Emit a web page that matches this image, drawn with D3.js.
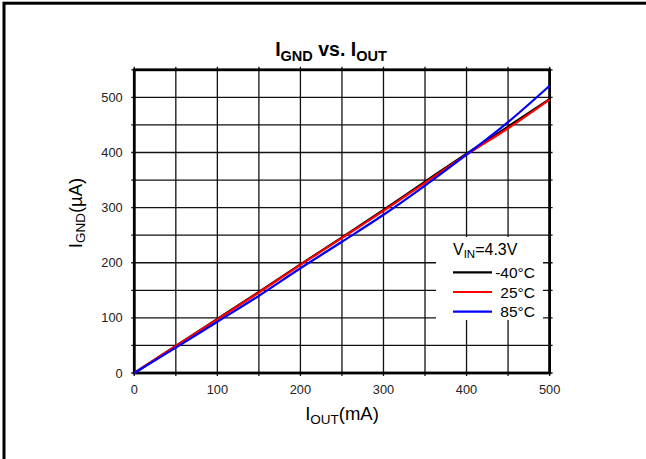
<!DOCTYPE html>
<html>
<head>
<meta charset="utf-8">
<script src="https://cdn.jsdelivr.net/npm/d3@7"></script>
<style>
  html, body { margin: 0; padding: 0; background: #fff; }
  svg { display: block; font-family: "Liberation Sans", Arial, sans-serif; }
</style>
</head>
<body>
<svg id="chart" width="646" height="459"></svg>
<script>
// Output current (mA) sample points
const iout = [0, 50, 100, 150, 200, 250, 300, 350, 400, 450, 500];
// Ground current (µA) per temperature
const ignd_m40 = [0, 49, 98, 147, 197, 246, 296, 347, 398, 447, 497];
const ignd_25  = [0, 49, 97, 146, 196, 245, 294, 345, 396, 444, 496];
const ignd_85  = [0, 46, 93, 140, 190, 238, 287, 340, 396, 455, 521];

const seriesNames  = ["-40°C", "25°C", "85°C"];
const seriesColors = ["#000000", "#ff0000", "#0000ff"];
const seriesValues = [ignd_m40, ignd_25, ignd_85];

const xTicks = [0, 100, 200, 300, 400, 500];
const yTicks = [0, 100, 200, 300, 400, 500];
const gridStep = 50;

const svg = d3.select("#chart");

// Outer frame (runs past the right and bottom edges of the view)
svg.append("rect")
  .attr("x", 4).attr("y", 3.2)
  .attr("width", 700).attr("height", 700)
  .attr("fill", "none").attr("stroke", "#000").attr("stroke-width", 3);

const x = d3.scaleLinear().domain([0, 500]).range([134.3, 549.6]);
const y = d3.scaleLinear().domain([0, 550]).range([373, 69.8]);

const plot = svg.append("g");

// Grid lines every 50 units, with short stubs past the frame
const gx = d3.range(0, 500 + 1, gridStep);
const gy = d3.range(0, 550 + 1, gridStep);
plot.selectAll("line.gx").data(gx).join("line")
  .attr("class", "gx")
  .attr("x1", d => x(d)).attr("x2", d => x(d))
  .attr("y1", y(0) + 3).attr("y2", y(550) - 3)
  .attr("stroke", "#111").attr("stroke-width", 1.3);
plot.selectAll("line.gy").data(gy).join("line")
  .attr("class", "gy")
  .attr("y1", d => y(d)).attr("y2", d => y(d))
  .attr("x1", x(0) - 3).attr("x2", x(500) + 3)
  .attr("stroke", "#111").attr("stroke-width", 1.3);

// Legend panel sits over the grid
const lg = svg.append("g");
lg.append("rect")
  .attr("x", 436).attr("y", 237).attr("width", 107).attr("height", 83)
  .attr("fill", "#fff");

// Plot border
plot.append("rect")
  .attr("x", x(0)).attr("y", y(550))
  .attr("width", x(500) - x(0)).attr("height", y(0) - y(550))
  .attr("fill", "none").attr("stroke", "#000").attr("stroke-width", 2.8);

// Tick labels
svg.append("g").selectAll("text").data(xTicks).join("text")
  .attr("x", d => x(d)).attr("y", 394)
  .attr("text-anchor", "middle")
  .attr("font-size", 12.8).attr("fill", "#222")
  .text(d => d);
svg.append("g").selectAll("text").data(yTicks).join("text")
  .attr("x", 122.7).attr("y", d => y(d) + 4.5)
  .attr("text-anchor", "end")
  .attr("font-size", 12.8).attr("fill", "#222")
  .text(d => d);

// Curves
const line = d3.line()
  .x((d, i) => x(iout[i]))
  .y(d => y(d))
  .curve(d3.curveMonotoneX);
svg.append("g").selectAll("path").data(seriesValues).join("path")
  .attr("d", d => line(d))
  .attr("fill", "none")
  .attr("stroke", (d, i) => seriesColors[i])
  .attr("stroke-width", 2.2)
  .attr("stroke-linejoin", "round");

// Legend contents
const vin = lg.append("text")
  .attr("x", 453).attr("y", 255)
  .attr("font-size", 16).attr("fill", "#000");
vin.append("tspan").text("V");
vin.append("tspan").attr("font-size", 11.5).attr("dy", 3).text("IN");
vin.append("tspan").attr("dy", -3).text("=4.3V");

const legendY = [272.3, 292, 311.7];
seriesNames.forEach((name, i) => {
  lg.append("line")
    .attr("x1", 453).attr("x2", 492)
    .attr("y1", legendY[i]).attr("y2", legendY[i])
    .attr("stroke", seriesColors[i]).attr("stroke-width", 2.2);
  lg.append("text")
    .attr("x", 535).attr("y", legendY[i] + 5.5)
    .attr("text-anchor", "end")
    .attr("font-size", 15.5).attr("fill", "#000")
    .text(name);
});

// Chart title
const title = svg.append("text")
  .attr("x", 331).attr("y", 56)
  .attr("text-anchor", "middle")
  .attr("font-size", 19.5).attr("font-weight", "bold").attr("fill", "#000");
title.append("tspan").text("I");
title.append("tspan").attr("font-size", 14.5).attr("dy", 4.5).text("GND");
title.append("tspan").attr("dy", -4.5).text(" vs. I");
title.append("tspan").attr("font-size", 14.5).attr("dy", 4.5).text("OUT");

// Axis titles
const xt = svg.append("text")
  .attr("x", 342).attr("y", 420)
  .attr("text-anchor", "middle")
  .attr("font-size", 18.5).attr("fill", "#000");
xt.append("tspan").text("I");
xt.append("tspan").attr("font-size", 13.5).attr("dy", 3.5).text("OUT");
xt.append("tspan").attr("dy", -3.5).text("(mA)");

const yt = svg.append("text")
  .attr("transform", "translate(81.5,213) rotate(-90)")
  .attr("text-anchor", "middle")
  .attr("font-size", 18.5).attr("fill", "#000");
yt.append("tspan").text("I");
yt.append("tspan").attr("font-size", 13.5).attr("dy", 3.5).text("GND");
yt.append("tspan").attr("dy", -3.5).text("(µA)");
</script>
</body>
</html>
